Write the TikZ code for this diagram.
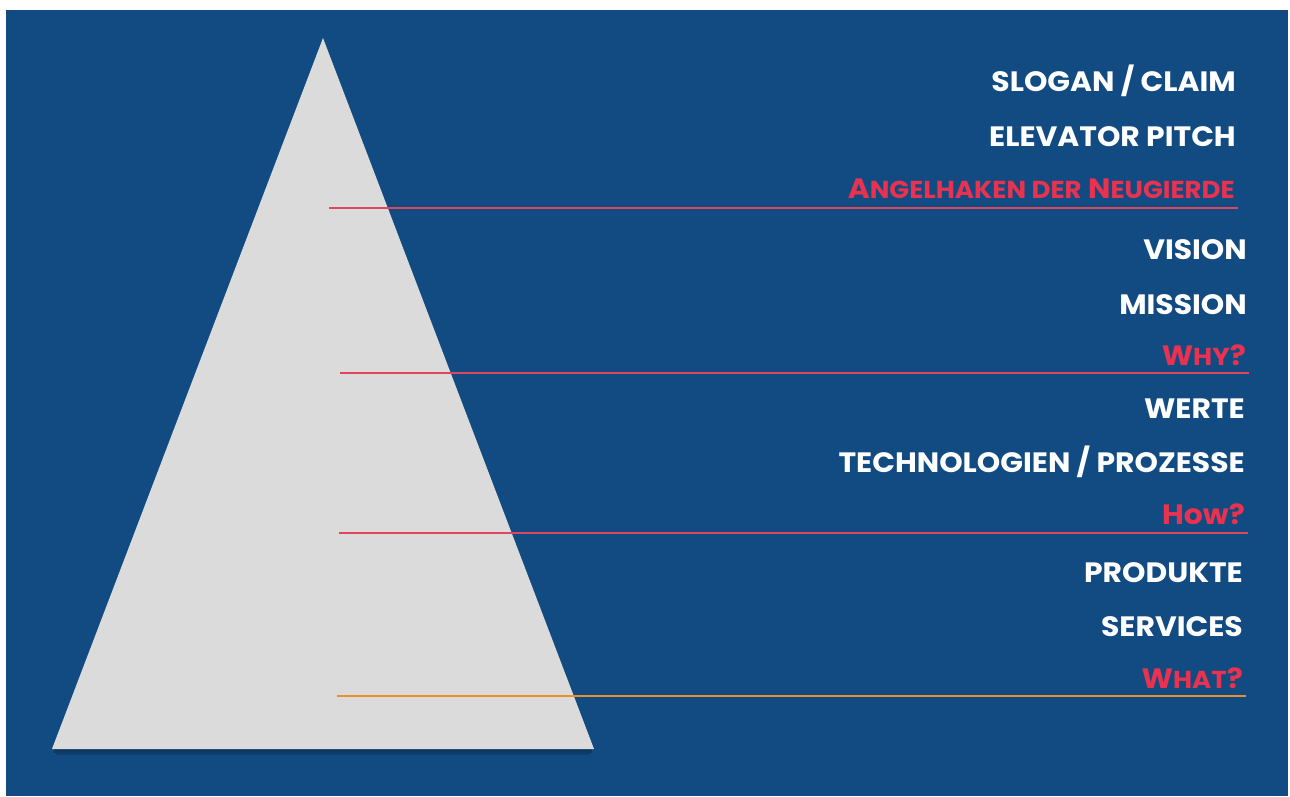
\documentclass[tikz,border=0pt]{standalone}
\usepackage{fontspec}
\setmainfont{Poppins}[FakeStretch=1.065]
\definecolor{bg}{HTML}{114B82}
\definecolor{tri}{HTML}{DBDBDB}
\definecolor{redl}{HTML}{E0455E}
\definecolor{redt}{HTML}{E8324F}
\definecolor{orl}{HTML}{E8902A}
\newcommand{\smc}[1]{{\fontsize{24.5}{24.5}\selectfont #1}}
\begin{document}
\begin{tikzpicture}[x=1pt,y=-1pt,
  lbl/.style={anchor=base east, inner sep=0pt, font=\fontsize{28}{28}\selectfont\bfseries, text=white},
  q/.style={lbl, text=redt},
  sep/.style={line width=2pt, draw=redl},
  sepo/.style={line width=2pt, draw=orl}]
\useasboundingbox (0,0) rectangle (1290,796);
\fill[white] (0,0) rectangle (1290,796);
\fill[bg] (6,10) rectangle (1288,796);
% pyramid with soft shadow under base
\fill[black, opacity=0.25] (54,749) rectangle (592,753);
\fill[black, opacity=0.15] (56,753) rectangle (590,755);
\fill[tri] (323,38) -- (594,749) -- (52,749) -- cycle;
% labels
\node[lbl] (slogan) at (1236,91) {SLOGAN / CLAIM};
\node[lbl] (pitch) at (1236,146) {ELEVATOR PITCH};
\node[q] (hook) at (1235,198) {A\smc{NGELHAKEN DER} N\smc{EUGIERDE}};
\node[lbl] (vision) at (1247,259) {VISION};
\node[lbl] (mission) at (1247,314) {MISSION};
\node[q] (why) at (1246,365) {W\smc{HY}?};
\node[lbl] (werte) at (1245,418) {WERTE};
\node[lbl] (tech) at (1245,472) {TECHNOLOGIEN / PROZESSE};
\node[q] (how) at (1245,524) {How?};
\node[lbl] (prod) at (1243,582) {PRODUKTE};
\node[lbl] (serv) at (1243,636) {SERVICES};
\node[q] (what) at (1243,688) {W\smc{HAT}?};
% separator lines
\coordinate (l1a) at (329,207.5); \coordinate (l1b) at (1238,207.5);
\coordinate (l2a) at (340,373);   \coordinate (l2b) at (1249,373);
\coordinate (l3a) at (339,532.5); \coordinate (l3b) at (1248,532.5);
\coordinate (l4a) at (337,696);   \coordinate (l4b) at (1246,696);
\draw[sep] (l1a) -- (l1b);
\draw[sep] (l2a) -- (l2b);
\draw[sep] (l3a) -- (l3b);
\draw[sepo] (l4a) -- (l4b);
\end{tikzpicture}
\end{document}
